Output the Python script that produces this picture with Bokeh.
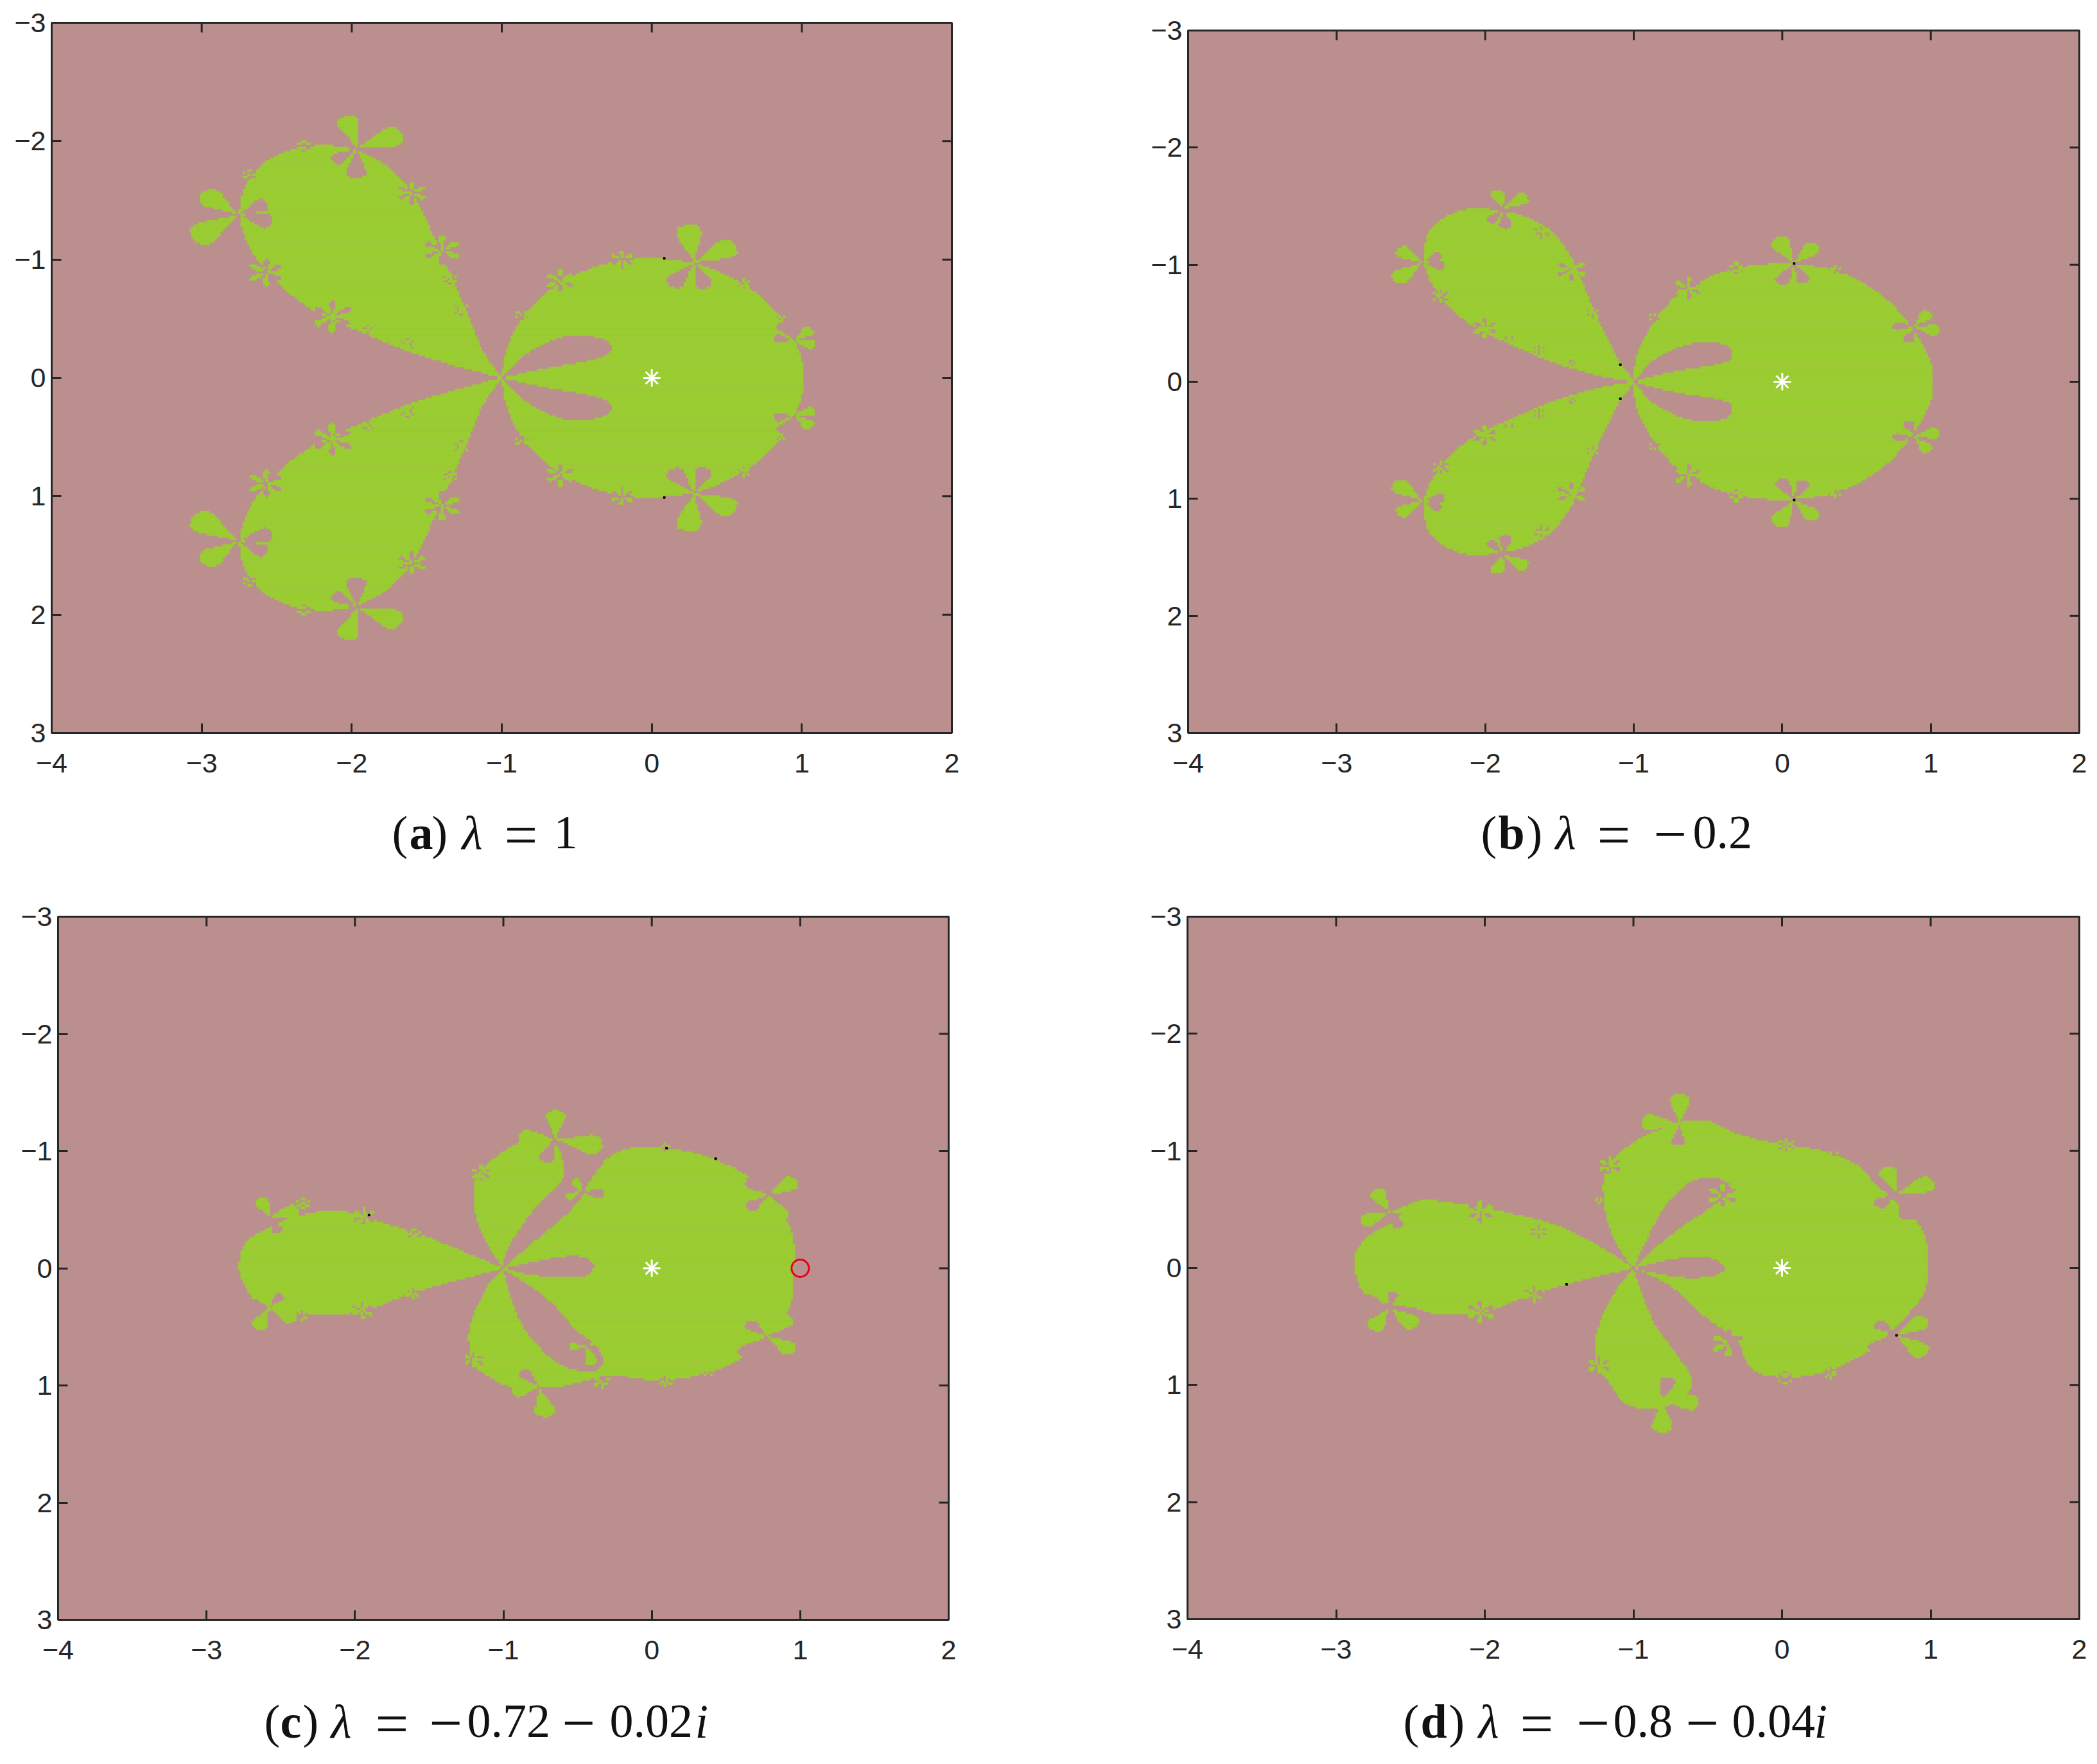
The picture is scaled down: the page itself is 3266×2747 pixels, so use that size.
import numpy as np
from bokeh.core.properties import value
from bokeh.embed import file_html
from bokeh.resources import INLINE
from bokeh.layouts import column, row
from bokeh.models import FixedTicker, LinearAxis, Range1d
from bokeh.plotting import figure

BG = "#bc8f8f"
GREEN = "#9acd32"
INK = "#262626"

X_TICKS = [-4, -3, -2, -1, 0, 1, 2]
Y_TICKS = [-3, -2, -1, 0, 1, 2, 3]
X_LABELS = ["−4", "−3", "−2", "−1", "0", "1", "2"]
Y_LABELS = ["−3", "−2", "−1", "0", "1", "2", "3"]
NX, NY = 400, 320   # computation grid of the basin picture

# ---------- panel (a): upper half, mirrored in y ----------
A_RIGHT = [(-1, 0), (-.98, -.2), (-.9, -.45), (-.75, -.68), (-.58, -.83), (-.4, -.93), (-.2, -1.0), (.05, -1.01),
           (.25, -.98), (.45, -.9), (.67, -.75), (.83, -.57), (.95, -.33), (1.01, -.12), (1.01, 0)]
A_LEFT = [(-1, 0), (-1.13, -.22), (-1.21, -.48), (-1.30, -.75), (-1.41, -1.06), (-1.50, -1.33), (-1.61, -1.59),
          (-1.76, -1.80), (-1.98, -1.94), (-2.20, -1.97), (-2.42, -1.93), (-2.59, -1.82), (-2.70, -1.66),
          (-2.76, -1.43), (-2.72, -1.19), (-2.61, -.96), (-2.46, -.75), (-2.24, -.55), (-1.98, -.41),
          (-1.72, -.27), (-1.45, -.15)]
A_HOLE = [(-1, 0), (-.84, -.22), (-.62, -.35), (-.45, -.37), (-.3, -.32), (-.25, -.25), (-.3, -.18), (-.5, -.12),
          (-.72, -.08)]
A_FLOWERS = [((.284, -.973), [(.236, -1.30), (.56, -1.125)], [(.12, -.77), (.36, -.75)]),
             ((.948, -.315), [(1.07, -.417), (1.084, -.278)], [(.81, -.34), (.86, -.47)]),
             ((-1.966, -1.944), [(-2.04, -2.21), (-1.665, -2.06)], [(-2.13, -1.82), (-1.97, -1.68)]),
             ((-2.757, -1.38), [(-3.0, -1.565), (-3.06, -1.17)], [(-2.56, -1.48), (-2.53, -1.31)])]
A_SMALL = [(-.61, -.82, .1), (-.2, -1.0, .08), (-.865, -.54, .05), (.61, -.79, .05), (.86, -.5, .04),
           (-1.6, -1.565, .1), (-1.40, -1.08, .13), (-2.57, -.89, .12), (-2.13, -.52, .14), (-1.63, -.28, .06),
           (-1.27, -.58, .06), (-1.345, -.83, .05), (-2.32, -1.96, .05), (-2.68, -1.71, .05), (-1.89, -.41, .05)]
A_DOTS = [(.083, -1.01), (.083, 1.01)]

# ---------- panel (b): upper half, mirrored in y ----------
B_RIGHT = [(-1, 0), (-.99, -.21), (-.88, -.49), (-.73, -.73), (-.54, -.87), (-.32, -.97), (-.10, -1.01), (.16, -1.0),
           (.37, -.95), (.6, -.81), (.78, -.62), (.94, -.34), (1.01, -.14), (1.01, 0)]
B_LEFT = [(-1, 0), (-1.12, -.21), (-1.21, -.45), (-1.31, -.73), (-1.40, -1.01), (-1.51, -1.24), (-1.66, -1.38),
          (-1.83, -1.45), (-2.09, -1.49), (-2.24, -1.43), (-2.35, -1.34), (-2.41, -1.20), (-2.41, -.96),
          (-2.33, -.77), (-2.18, -.56), (-2.01, -.42), (-1.79, -.30), (-1.53, -.155), (-1.23, -.05)]
B_HOLE = [(-1, 0), (-.88, -.19), (-.71, -.30), (-.49, -.36), (-.34, -.30), (-.33, -.21), (-.38, -.155), (-.62, -.11),
          (-.84, -.06)]
B_FLOWERS = [((.08, -1.01), [(-.04, -1.23), (.23, -1.17)], [(-.02, -.83), (.155, -.84)]),
             ((.89, -.47), [(.99, -.6), (1.06, -.43)], [(.74, -.48), (.84, -.33)]),
             ((-1.876, -1.477), [(-1.93, -1.64), (-1.72, -1.59)], [(-1.98, -1.36), (-1.86, -1.30)]),
             ((-2.425, -1.017), [(-2.59, -1.135), (-2.61, -.86)], [(-2.29, -1.09), (-2.265, -.99)])]
B_SMALL = [(-.63, -.80, .1), (-.31, -.97, .06), (.36, -.95, .04), (-.86, -.55, .04), (-1.42, -.96, .1),
           (-2.0, -.46, .09), (-1.62, -1.28, .06), (-2.30, -.73, .06), (-1.64, -.27, .05), (-1.28, -.59, .05),
           (-1.84, -.375, .03), (-1.41, -.165, .03)]
B_DOTS = [(-1.09, -.145), (-1.09, .145), (.08, -1.01), (.08, 1.01)]

# ---------- panel (c) ----------
C_MAIN = [(-1, 0), (-.77, -.25), (-.50, -.53), (-.41, -.76), (-.30, -.95), (-.15, -1.03), (.03, -1.03), (.25, -1.0),
          (.47, -.91), (.69, -.76), (.82, -.53), (.93, -.39), (.97, -.15), (.94, .13), (.95, .31), (.82, .55),
          (.6, .78), (.38, .90), (.11, .96), (-.11, .945), (-.24, .9), (-.415, .945), (-.635, 1.02), (-.97, 1.02),
          (-1.10, .92), (-1.21, .83), (-1.24, .59), (-1.21, .41), (-1.10, .126)]
C_UPPER = [(-1, 0), (-1.12, -.22), (-1.2, -.48), (-1.2, -.76), (-1.10, -.90), (-.9, -1.09), (-.635, -1.09),
           (-.59, -.86), (-.59, -.76), (-.79, -.53), (-.99, -.15)]
C_LEFT = [(-1, 0), (-1.3, -.155), (-1.56, -.295), (-1.83, -.39), (-2.0, -.48), (-2.22, -.49), (-2.44, -.435),
          (-2.62, -.32), (-2.75, -.225), (-2.79, 0), (-2.74, .17), (-2.62, .36), (-2.4, .38), (-2.18, .41),
          (-1.91, .36), (-1.65, .22), (-1.385, .126)]
C_HOLE_MID = [(-1, 0), (-.635, -.10), (-.46, -.11), (-.38, -.04), (-.41, .06), (-.55, .09), (-.86, .056)]
C_HOLE_LOW = [(-1, .01), (-.9, .08), (-.68, .27), (-.5, .55), (-.37, .64), (-.31, .83), (-.42, .9), (-.635, .83),
              (-.79, .64), (-.92, .41)]
C_FLOWERS = [((-.65, -1.10), [(-.645, -1.35), (-.33, -1.04), (-.9, -1.12)], [(-.72, -.9)]),
             ((-.76, 1.015), [(-.71, 1.27), (-.94, 1.06)], [(-.88, .87)]),
             ((-.44, .665), [(-.3, .59), (-.56, .675), (-.4, .83)], []),
             ((-.48, -.655), [(-.52, -.76), (-.58, -.6)], [(-.32, -.63)]),
             ((-2.576, -.435), [(-2.64, -.6), (-2.38, -.5)], [(-2.69, -.34), (-2.51, -.295)]),
             ((-2.576, .337), [(-2.66, .52), (-2.4, .44)], [(-2.49, .22), (-2.7, .29)]),
             ((.785, -.62), [(.975, -.755), (.89, -.41)], [(.64, -.76), (.64, -.505)]),
             ((.776, .58), [(.96, .71), (.93, .41)], [(.64, .46), (.6, .76)])]
C_SMALL = [(-1.94, -.445, .08), (-1.6, -.285, .05), (-1.61, .21, .05), (-1.95, .36, .08), (-2.36, .41, .05),
           (-2.35, -.55, .05), (.09, .96, .05), (.38, .9, .05), (.09, -1.03, .04), (-.335, .97, .06),
           (-1.2, .78, .07), (-1.15, -.81, .07)]
C_DOTS = [(.1, -1.025), (.43, -.935), (-1.905, -.454)]
C_CIRCLE = [(1, 0)]

# ---------- panel (d) ----------
D_MAIN = [(-1, 0), (-1.14, -.24), (-1.2, -.525), (-1.205, -.805), (-1.1, -.99), (-.925, -1.13), (-.69, -1.25),
          (-.49, -1.27), (-.36, -1.16), (-.06, -1.06), (.24, -1.02), (.5, -.9), (.63, -.71), (.8, -.525),
          (.955, -.34), (.985, -.1), (.975, .18), (.89, .34), (.63, .69), (.33, .88), (.11, .94), (-.15, .92),
          (-.255, .79), (-.28, .6), (-.49, .46), (-.75, .13)]
D_LOWER = [(-1, 0), (-1.14, .225), (-1.25, .53), (-1.27, .79), (-1.14, 1.02), (-1.05, 1.185), (-.84, 1.21),
           (-.645, 1.115), (-.59, .95), (-.71, .74), (-.88, .46)]
D_LEFT = [(-1, 0), (-1.27, -.22), (-1.53, -.38), (-1.875, -.48), (-2.18, -.55), (-2.48, -.595), (-2.61, -.385),
          (-2.78, -.29), (-2.89, -.1), (-2.87, .084), (-2.78, .295), (-2.52, .32), (-2.31, .41), (-2.0, .39),
          (-1.79, .27), (-1.44, .13)]
D_HOLE_UP = [(-1, 0), (-.82, -.5), (-.62, -.76), (-.43, -.78), (-.32, -.69), (-.43, -.55), (-.75, -.29)]
D_HOLE_MID = [(-1, 0), (-.75, -.08), (-.49, -.11), (-.36, -.01), (-.43, .075), (-.665, .094), (-.92, .03)]
D_FLOWERS = [((-.81, 1.14), [(-.805, 1.41), (-.56, 1.15), (-1.05, 1.08)], [(-.76, .93)]),
             ((-.69, -1.23), [(-.69, -1.485), (-.945, -1.25), (-.42, -1.13)], [(-.7, -1.04)]),
             ((-2.64, -.48), [(-2.74, -.665), (-2.83, -.385), (-2.41, -.5)], [(-2.57, -.34)]),
             ((-2.64, .34), [(-2.76, .53), (-2.46, .5)], [(-2.61, .2), (-2.83, .25)]),
             ((.775, -.64), [(.695, -.865), (1.02, -.735)], [(.63, -.525), (.87, -.41)]),
             ((.77, .575), [(.975, .435), (.97, .74)], [(.63, .46), (.59, .715)])]
D_SMALL = [(-2.03, -.48, .1), (-1.64, -.31, .06), (-2.03, .375, .1), (-1.67, .225, .07), (-.36, .64, .12),
           (-.4, -.62, .1), (-1.16, -.875, .08), (-1.23, .83, .08), (-1.23, -.58, .03), (.03, -1.05, .06),
           (.35, -.97, .04), (.02, .94, .06), (.33, .9, .05)]
D_DOTS = [(-1.45, .14), (.77, .576)]

CENTRE = [(0, 0)]

# caption pieces: text, left edge on the page, style (sign = wide math sign)
CAP_A = [("(", 610, "normal"), ("a", 637, "bold"), (")", 672, "normal"), ("λ", 719, "italic"), ("=", 785, "sign"),
         ("1", 862, "normal")]
CAP_B = [("(", 2306, "normal"), ("b", 2333, "bold"), (")", 2377, "normal"), ("λ", 2422, "italic"), ("=", 2487, "sign"),
         ("−", 2575, "sign"), ("0.2", 2636, "normal")]
CAP_C = [("(", 411, "normal"), ("c", 436, "bold"), (")", 471, "normal"), ("λ", 515, "italic"), ("=", 584, "sign"),
         ("−", 668, "sign"), ("0.72", 727, "normal"), ("−", 875, "sign"), ("0.02", 949, "normal"), ("i", 1082, "italic")]
CAP_D = [("(", 2185, "normal"), ("d", 2212, "bold"), (")", 2256, "normal"), ("λ", 2302, "italic"), ("=", 2367, "sign"),
         ("−", 2455, "sign"), ("0.8", 2512, "normal"), ("−", 2625, "sign"), ("0.04", 2697, "normal"), ("i", 2825, "italic")]


def mirror(points):
    return [(x, -y) for x, y in points]


def mirror_flowers(flowers):
    return flowers + [((c[0], -c[1]), mirror(g), mirror(b)) for c, g, b in flowers]


def mirror_small(small):
    return small + [(x, -y, r) for x, y, r in small]


def smooth(points, rounds=2):
    """Round the read outline; its first point (the shared cusp) stays sharp."""
    pts = [np.array(q, float) for q in points] + [np.array(points[0], float)]
    for _ in range(rounds):
        out = [pts[0]]
        for a, b in zip(pts[:-1], pts[1:]):
            out += [.75 * a + .25 * b, .25 * a + .75 * b]
        out.append(pts[-1])
        pts = out
    return [tuple(q) for q in pts[:-1]]


def petal(c, tip, wr=.25, n=14):
    cx, cy = c
    dx, dy = tip[0] - cx, tip[1] - cy
    s = np.linspace(0, 1, n)
    w = 1.75 * wr * s ** 1.3 * np.sqrt(1 - s ** 4)
    ax = cx + dx * s
    ay = cy + dy * s
    xs = np.r_[ax - dy * w, (ax + dy * w)[::-1]]
    ys = np.r_[ay + dx * w, (ay - dx * w)[::-1]]
    return list(zip(xs, ys))


GX = -4 + (np.arange(NX) + .5) * 6 / NX
GY = -3 + (np.arange(NY) + .5) * 6 / NY


def paint(mask, poly, on):
    xs = np.array([q[0] for q in poly])
    ys = np.array([q[1] for q in poly])
    i0, i1 = np.searchsorted(GX, [xs.min(), xs.max()])
    j0, j1 = np.searchsorted(GY, [ys.min(), ys.max()])
    if i1 <= i0 or j1 <= j0:
        return
    X, Y = np.meshgrid(GX[i0:i1], GY[j0:j1])
    hit = np.zeros(X.shape, bool)
    for k in range(len(xs)):
        x1, y1, x2, y2 = xs[k], ys[k], xs[k - 1], ys[k - 1]
        if y1 == y2:
            continue
        hit ^= ((y1 > Y) != (y2 > Y)) & (X < (x2 - x1) * (Y - y1) / (y2 - y1) + x1)
    mask[j0:j1, i0:i1] = np.where(hit, on, mask[j0:j1, i0:i1])


def basin(bodies, holes, flowers, small):
    mask = np.zeros((NY, NX), bool)
    for b in bodies:
        paint(mask, smooth(b), True)
    for h in holes:
        paint(mask, smooth(h), False)
    for c, green, bg in flowers:
        for t in bg:
            paint(mask, petal(c, t), False)
    for c, green, bg in flowers:
        for t in green:
            paint(mask, petal(c, t), True)
    for x, y, r in small:
        ref = mask.copy()
        for k in range(6):
            a = np.radians(30 + 60 * k)
            t = (x + r * np.cos(a), y + r * np.sin(a))
            j = min(NY - 1, int((t[1] + 3) / 6 * NY))
            i = min(NX - 1, int((t[0] + 4) / 6 * NX))
            paint(mask, petal((x, y), t, wr=.17, n=8), not ref[j, i])
    return mask


def runs(mask):
    left, right, top, bottom = [], [], [], []
    dx, dy = 6 / NX, 6 / NY
    for j in range(NY):
        line = np.r_[False, mask[j], False].astype(int)
        d = np.diff(line)
        for a, b in zip(np.flatnonzero(d == 1), np.flatnonzero(d == -1)):
            left.append(-4 + a * dx)
            right.append(-4 + b * dx)
            top.append(-3 + j * dy)
            bottom.append(-3 + (j + 1) * dy)
    return left, right, top, bottom


def panel(width, height, borders, bodies, holes, flowers, small, dots):
    left, right, top, bottom = borders
    p = figure(width=width, height=height, output_backend="svg", toolbar_location=None,
               x_range=Range1d(-4, 2), y_range=Range1d(3, -3),
               min_border_left=left, min_border_right=right, min_border_top=top, min_border_bottom=bottom,
               background_fill_color=BG, border_fill_color="white", x_axis_type=None, y_axis_type=None)
    p.grid.visible = False
    p.outline_line_color = INK
    p.outline_line_width = 3
    for side, ticks, labels in (("below", X_TICKS, X_LABELS), ("left", Y_TICKS, Y_LABELS)):
        ax = LinearAxis(ticker=FixedTicker(ticks=ticks))
        ax.major_tick_in = 15
        ax.major_tick_out = 0
        ax.minor_tick_line_color = None
        ax.major_tick_line_color = INK
        ax.major_tick_line_width = 3
        ax.axis_line_color = INK
        ax.axis_line_width = 3
        ax.major_label_overrides = {t: s for t, s in zip(ticks, labels)}
        ax.major_label_text_font = "Liberation Sans"
        ax.major_label_text_font_size = "43px"
        ax.major_label_text_color = INK
        ax.major_label_standoff = 32 if side == "below" else 9
        p.add_layout(ax, side)

    l, r, t, b = runs(basin(bodies, holes, flowers, small))
    p.quad(left=l, right=r, top=t, bottom=b, fill_color=GREEN, line_color=GREEN, line_width=.6)

    # mirrored ticks along the top and right of the box
    fw, fh = width - left - right, height - top - bottom
    tx, ty = 15 * 6 / fw, 15 * 6 / fh
    p.segment(X_TICKS, [-3] * len(X_TICKS), X_TICKS, [-3 + ty] * len(X_TICKS), line_color=INK, line_width=3)
    p.segment([2] * len(Y_TICKS), Y_TICKS, [2 - tx] * len(Y_TICKS), Y_TICKS, line_color=INK, line_width=3)

    p.scatter([d[0] for d in dots], [d[1] for d in dots], marker="square", size=3, color="black")
    p.scatter([c[0] for c in CENTRE], [c[1] for c in CENTRE], marker="asterisk", size=27,
              line_color="white", line_width=3, fill_color=None)
    return p


def caption(width, height, pieces, origin_x, origin_y, baseline):
    """A strip of page-sized coordinates under a panel that holds its caption."""
    p = figure(width=width, height=height, output_backend="svg", toolbar_location=None,
               x_range=Range1d(origin_x, origin_x + width), y_range=Range1d(origin_y + height, origin_y),
               min_border=0, x_axis_type=None, y_axis_type=None, outline_line_color=None,
               background_fill_color="white", border_fill_color="white")
    p.grid.visible = False
    for style, size, drop in (("normal", "74px", 0), ("bold", "74px", 0), ("italic", "74px", 0), ("sign", "92px", 3)):
        part = [q for q in pieces if q[2] == style]
        if part:
            p.text([q[1] for q in part], [baseline + drop] * len(part), text=[q[0] for q in part],
                   text_font=value("Liberation Serif"), text_font_size=value(size),
                   text_font_style="normal" if style == "sign" else style,
                   text_color="#111111", text_baseline="alphabetic", text_align="left")
    return p


W1, W2 = 1658, 1600
H1, CAP1, H2, CAP2 = 1225, 165, 1240, 108

pa = panel(W1, H1, (80, 176, 35, H1 - 1141), [A_RIGHT + mirror(A_RIGHT)[::-1], A_LEFT, mirror(A_LEFT)],
           [A_HOLE, mirror(A_HOLE)], mirror_flowers(A_FLOWERS), mirror_small(A_SMALL), A_DOTS)
pb = panel(W2, H1, (192, 20, 47, H1 - 1141), [B_RIGHT + mirror(B_RIGHT)[::-1], B_LEFT, mirror(B_LEFT)],
           [B_HOLE, mirror(B_HOLE)], mirror_flowers(B_FLOWERS), mirror_small(B_SMALL), B_DOTS)
pc = panel(W1, H2, (90, 181, 37, 108), [C_MAIN, C_UPPER, C_LEFT], [C_HOLE_MID, C_HOLE_LOW], C_FLOWERS, C_SMALL,
           C_DOTS)
pc.scatter([q[0] for q in C_CIRCLE], [q[1] for q in C_CIRCLE], marker="circle", size=27, fill_color=None,
           line_color="#e6001a", line_width=3)
pd_ = panel(W2, H2, (191, 20, 37, 109), [D_MAIN, D_LOWER, D_LEFT], [D_HOLE_UP, D_HOLE_MID], D_FLOWERS, D_SMALL,
            D_DOTS)

ca = caption(W1, CAP1, CAP_A, 0, H1, 1296)
cb = caption(W2, CAP1, CAP_B, W1, H1, 1296)
cc = caption(W1, CAP2, CAP_C, 0, H1 + CAP1 + H2, 2680)
cd = caption(W2, CAP2, CAP_D, W1, H1 + CAP1 + H2, 2680)

# nested single-figure rows keep Bokeh from sharing the frame edges between neighbours
page = column(row(row(pa), row(pb)), row(ca, cb), row(row(pc), row(pd_)), row(cc, cd), spacing=0)
open("out.html", "w").write(file_html(page, INLINE))
